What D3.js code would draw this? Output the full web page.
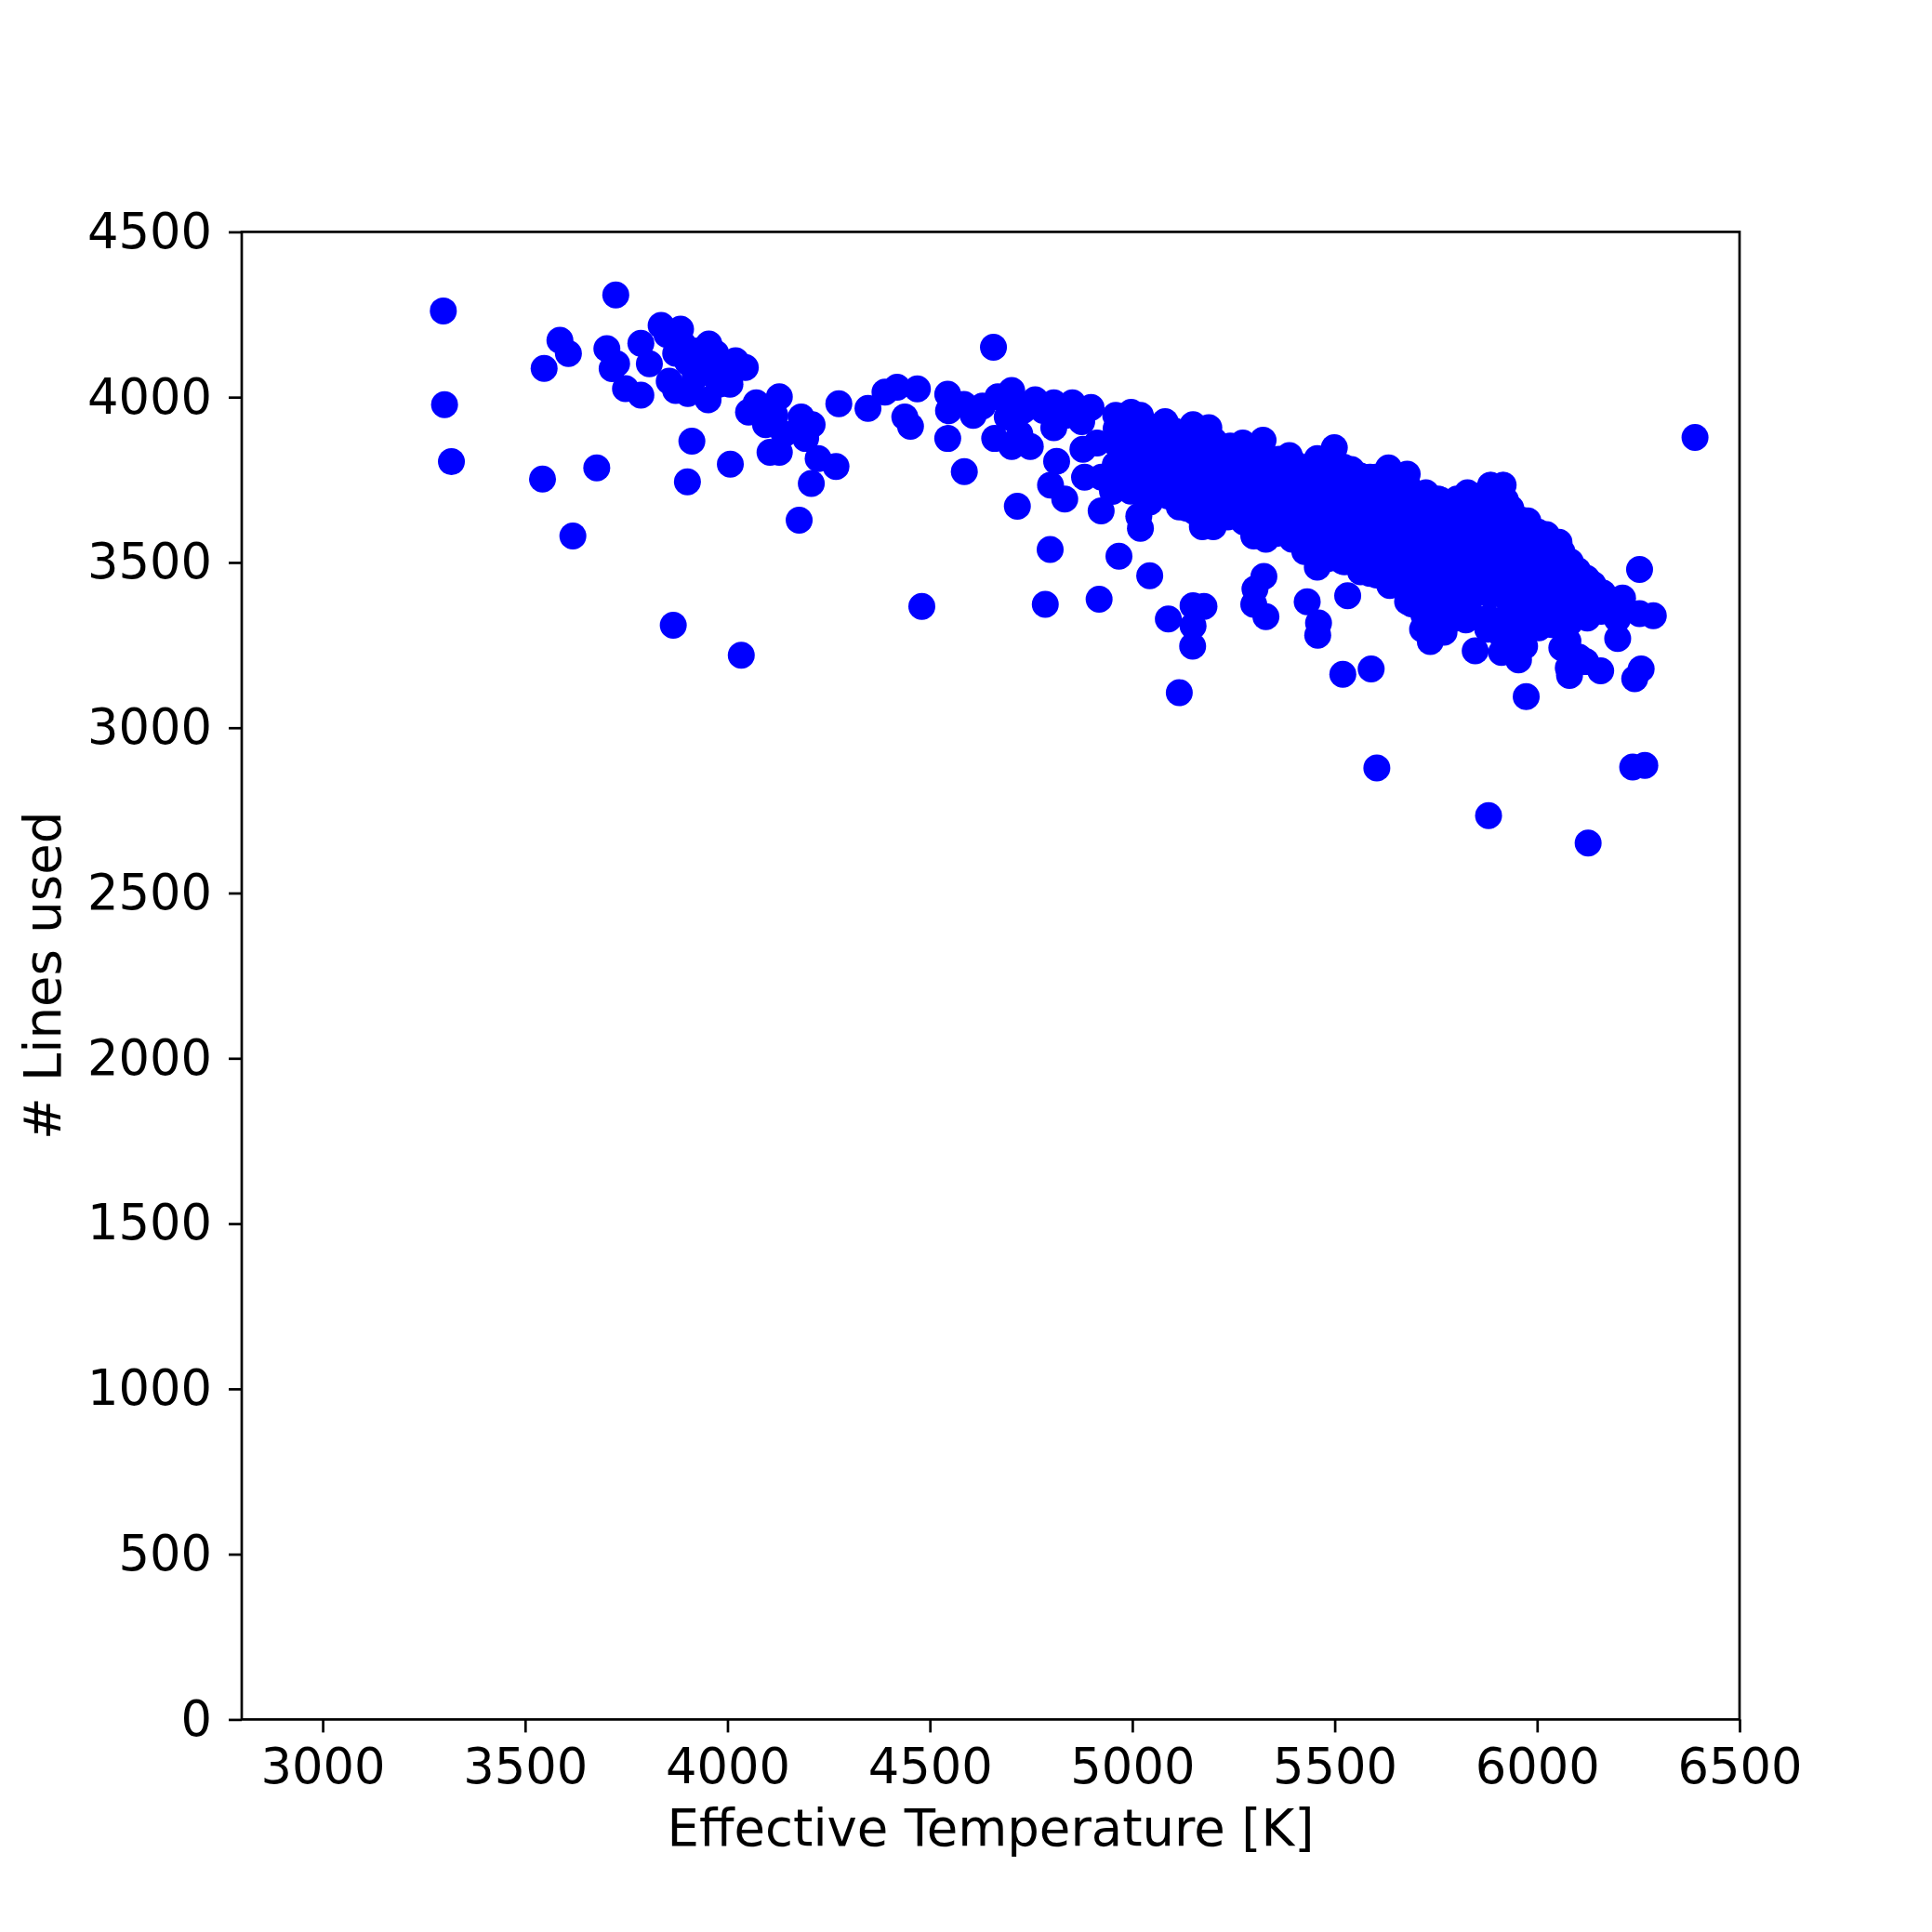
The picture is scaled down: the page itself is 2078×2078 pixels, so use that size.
<!DOCTYPE html>
<html>
<head>
<meta charset="utf-8">
<script src="https://cdn.jsdelivr.net/npm/d3@7"></script>
<style>
  body { margin: 0; background: #fff; }
  text { font-family: "DejaVu Sans", sans-serif; fill: #000; }
</style>
</head>
<body>
<div id="chart"></div>
<script>
// tick values
var xTicks = [3000, 3500, 4000, 4500, 5000, 5500, 6000, 6500];
var yTicks = [0, 500, 1000, 1500, 2000, 2500, 3000, 3500, 4000, 4500];

// [Teff, lines used]
var coolStars = [
  [3298,4261],[3301,3977],[3318,3805],[3724,4309],[3586,4172],[3607,4132],[3547,4087],
  [3702,4147],[3786,4163],[3726,4101],[3715,4086],[3748,4026],[3786,4006],[3807,4101],
  [3836,4217],[3884,4206],[3954,4161],[3856,4048],[3872,4020],[3902,4011],[3952,3992],
  [3902,4105],[3933,4076],[3971,4133],[3979,4039],[3872,4133],[3948,4114],[3912,3867],
  [3901,3744],[3677,3786],[3543,3752],[3618,3580],[3866,3310],[4007,3797],
  [3920,4060],[3960,4080],[3890,4160],[3850,4190],[3925,4140]
];

var midStars = [
  [4006,4086],[4044,4090],[4006,4039],[4020,4110],[4052,3955],[4071,3983],[4094,3917],
  [4128,4001],[4117,3945],[4182,3940],[4209,3917],[4193,3875],[4140,3889],[4105,3833],
  [4128,3833],[4224,3814],[4268,3790],[4207,3739],[4177,3628],[4034,3219],[4275,3980],
  [4347,3966],[4389,4015],[4419,4030],[4469,4025],[4438,3940],[4452,3912],[4544,4009],
  [4546,3959],[4584,3978],[4607,3945],[4630,3973],[4544,3875],[4585,3775],[4657,4151],
  [4480,3367],[4668,4001],[4702,4020],[4691,3940],[4660,3875],[4702,3851],[4748,3851],
  [4722,3889],[4760,3992],[4806,3983],[4852,3983],[4898,3969],[4806,3908],[4836,3945],
  [4875,3926],[4813,3806],[4878,3842],[4913,3861],[4882,3758],[4924,3758],[4951,3715],
  [4997,3748],[4798,3734],[4833,3692],[4923,3656],[4716,3670],[4797,3539],[4967,3519],
  [5043,3460],[4785,3373],[4918,3389],[5089,3329],[5150,3369],[5150,3308],[5149,3247],
  [5116,3106],[5016,3640],[5020,3603],[5043,3683],[5177,3367],
  [4730,3960],[4780,3960],[4700,3990],
  [4959,3945],[4997,3954],[5020,3945],[5081,3926],[5150,3917],[4990,3851],[5066,3851],
  [5143,3851],[4974,3795],[5051,3776],[5104,3758],[5166,3758],[5089,3701],[5134,3664],
  [5173,3608],[5028,3898],[5104,3898],[5181,3870],[5181,3804],[5066,3804]
];

var hotStars = [
  [5189,3908],[5273,3861],[5323,3870],[5388,3823],[5499,3847],[5457,3814],[5541,3781],
  [5633,3786],[5679,3767],[5587,3758],[5725,3711],[5755,3692],[5828,3711],[5885,3734],
  [5916,3734],[5935,3664],[5977,3626],[6023,3584],[6054,3561],[6061,3533],[6100,3476],
  [6138,3434],[6253,3479],[6211,3392],[6253,3345],[6287,3339],[6199,3270],[6149,3359],
  [6257,3178],[6241,3148],[6157,3172],[6080,3158],[6077,3181],[6103,3214],[6061,3242],
  [5973,3094],[5954,3205],[5969,3247],[5912,3228],[5847,3233],[5878,3298],[5824,3326],
  [5770,3289],[5736,3261],[5717,3298],[5690,3375],[5636,3430],[5587,3467],[5532,3399],
  [5518,3505],[5457,3486],[5426,3533],[5395,3570],[5330,3570],[5300,3580],[5325,3458],
  [5303,3420],[5330,3336],[5300,3373],[5432,3381],[5460,3317],[5458,3280],[5520,3162],
  [5590,3178],[5604,2878],[5880,2734],[6126,2651],[6236,2881],[6266,2886],[5200,3608],
  [5231,3650],[5261,3683],[6390,3878],[6120,3200]
];

// the solid cloud between 5000 and 6200 K
var coreStars = [
  [4960,3905],[4965,3852],[4958,3796],[4962,3748],
  [5002,3928],[4998,3878],[5004,3822],[5000,3768],[4996,3716],
  [5042,3912],[5038,3858],[5044,3802],[5040,3742],[5036,3690],
  [5082,3898],[5078,3846],[5084,3792],[5080,3728],
  [5122,3892],[5118,3838],[5124,3782],[5120,3722],[5116,3668],
  [5162,3882],[5158,3828],[5164,3772],[5160,3712],[5156,3652],
  [5202,3868],[5198,3822],[5204,3762],[5200,3700],[5196,3642],
  [5242,3852],[5238,3798],[5244,3742],[5240,3690],[5236,3638],
  [5282,3838],[5278,3792],[5284,3732],[5280,3668],[5276,3622],
  [5322,3828],[5318,3782],[5324,3718],[5320,3662],[5316,3602],
  [5362,3812],[5358,3758],[5364,3702],[5360,3642],[5356,3588],
  [5402,3798],[5398,3752],[5404,3688],[5400,3632],[5396,3572],
  [5442,3792],[5438,3738],[5444,3682],[5440,3618],[5436,3562],
  [5482,3802],[5478,3742],[5484,3678],[5480,3622],[5476,3558],[5484,3512],
  [5522,3788],[5518,3732],[5524,3668],[5520,3612],[5516,3548],[5524,3502],
  [5562,3762],[5558,3698],[5564,3642],[5560,3578],[5556,3522],[5564,3472],
  [5602,3758],[5598,3702],[5604,3638],[5600,3582],[5596,3518],[5604,3462],
  [5642,3752],[5638,3688],[5644,3632],[5640,3568],[5636,3512],[5644,3452],
  [5682,3728],[5678,3672],[5684,3608],[5680,3552],[5676,3488],[5684,3432],[5680,3382],
  [5722,3702],[5718,3638],[5724,3582],[5720,3518],[5716,3462],[5724,3398],[5720,3342],
  [5762,3688],[5758,3632],[5764,3568],[5760,3512],[5756,3448],[5764,3392],[5760,3332],
  [5802,3692],[5798,3628],[5804,3572],[5800,3508],[5796,3452],[5804,3388],[5800,3332],
  [5842,3702],[5838,3642],[5844,3578],[5840,3522],[5836,3458],[5844,3402],[5840,3338],
  [5882,3698],[5878,3642],[5884,3578],[5880,3522],[5876,3458],[5884,3402],[5880,3332],
  [5922,3688],[5918,3632],[5924,3568],[5920,3512],[5916,3448],[5924,3392],[5920,3328],[5916,3272],
  [5962,3628],[5958,3572],[5964,3508],[5960,3452],[5956,3388],[5964,3332],[5960,3268],
  [6002,3592],[5998,3528],[6004,3472],[6000,3408],[5996,3352],[6004,3302],
  [6042,3548],[6038,3492],[6044,3428],[6040,3372],[6036,3312],
  [6082,3502],[6078,3438],[6084,3382],[6080,3318],[6076,3262],
  [6122,3452],[6118,3388],[6124,3332],
  [6162,3408],[6158,3352],
  [6202,3382],[6198,3328]
];

var W = 2078, H = 2078;
var plotL = 260, plotR = 1871, plotT = 249.4, plotB = 1849.4;

var svg = d3.select("#chart").append("svg")
    .attr("width", W)
    .attr("height", H);

svg.append("rect").attr("width", W).attr("height", H).attr("fill", "#fff");

var x = d3.scaleLinear().domain([2800, 6500]).range([plotL, plotR]);
var y = d3.scaleLinear().domain([0, 4500]).range([plotB, plotT]);

var stars = coolStars.concat(midStars, hotStars, coreStars);

svg.append("g")
    .selectAll("circle")
    .data(stars)
    .enter()
    .append("circle")
    .attr("cx", function(d) { return x(d[0]); })
    .attr("cy", function(d) { return y(d[1]); })
    .attr("r", 14.5)
    .attr("fill", "#0000ff");

var xAxis = svg.append("g")
    .attr("transform", "translate(0," + plotB + ")")
    .call(d3.axisBottom(x).tickValues(xTicks).tickFormat(d3.format("d"))
        .tickSize(14).tickSizeOuter(0).tickPadding(17));

var yAxis = svg.append("g")
    .attr("transform", "translate(" + plotL + ",0)")
    .call(d3.axisLeft(y).tickValues(yTicks).tickFormat(d3.format("d"))
        .tickSize(14).tickSizeOuter(0).tickPadding(18));

[xAxis, yAxis].forEach(function(g) {
    g.select(".domain").remove();
    g.selectAll(".tick line").attr("stroke", "#000").attr("stroke-width", 2.7);
    g.selectAll(".tick text")
        .attr("fill", "#000")
        .style("font-family", "DejaVu Sans")
        .style("font-size", "52.7px");
});

// axes frame
svg.append("rect")
    .attr("x", plotL)
    .attr("y", plotT)
    .attr("width", plotR - plotL)
    .attr("height", plotB - plotT)
    .attr("fill", "none")
    .attr("stroke", "#000")
    .attr("stroke-width", 2.7);

svg.append("text")
    .attr("x", (plotL + plotR) / 2)
    .attr("y", 1985)
    .attr("text-anchor", "middle")
    .style("font-size", "54.5px")
    .text("Effective Temperature [K]");

svg.append("text")
    .attr("transform", "translate(65," + (plotT + plotB) / 2 + ") rotate(-90)")
    .attr("text-anchor", "middle")
    .style("font-size", "54.5px")
    .text("# Lines used");
</script>
</body>
</html>
